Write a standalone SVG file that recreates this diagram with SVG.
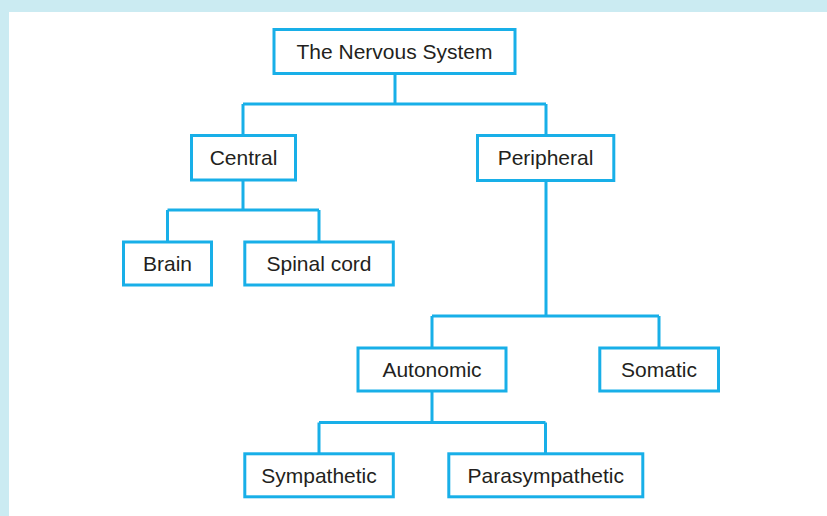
<svg xmlns="http://www.w3.org/2000/svg" width="827" height="516" viewBox="0 0 827 516">
<style>
.box{fill:#ffffff;stroke:#18afe8;stroke-width:3}
.lbl{font-family:"Liberation Sans",Arial,sans-serif;font-size:21px;fill:#231f20;text-anchor:middle}
.conn{fill:none;stroke:#18afe8;stroke-width:3}
</style>
<rect x="0" y="0" width="827" height="516" fill="#cbebf2"/>
<rect x="9" y="12" width="818" height="504" fill="#ffffff"/>
<g id="connectors">
<path class="conn" d="M395,73 V104 M243,104 H546 M243,104 V135.5 M546,104 V135.5"/>
<path class="conn" d="M243,179 V210 M167.5,210 H319 M167.5,210 V242 M319,210 V242"/>
<path class="conn" d="M546,180 V316 M432,316 H659 M432,316 V348 M659,316 V348"/>
<path class="conn" d="M432,391 V422.5 M319,422.5 H545.5 M319,422.5 V454 M545.5,422.5 V454"/>
</g>
<g id="nervous-system"><rect class="box" x="274" y="29.5" width="241" height="44"/><text class="lbl" x="394.5" y="59">The Nervous System</text></g>
<g id="central"><rect class="box" x="191.5" y="135.5" width="104" height="44.5"/><text class="lbl" x="243.5" y="165">Central</text></g>
<g id="peripheral"><rect class="box" x="477.5" y="135.5" width="136.3" height="45"/><text class="lbl" x="545.5" y="165">Peripheral</text></g>
<g id="brain"><rect class="box" x="123.5" y="242" width="88" height="43"/><text class="lbl" x="167.5" y="271">Brain</text></g>
<g id="spinal-cord"><rect class="box" x="244.8" y="242" width="148.5" height="43"/><text class="lbl" x="319" y="271">Spinal cord</text></g>
<g id="autonomic"><rect class="box" x="358" y="348" width="148" height="43"/><text class="lbl" x="432" y="377">Autonomic</text></g>
<g id="somatic"><rect class="box" x="599.8" y="348" width="118.7" height="43"/><text class="lbl" x="659" y="377">Somatic</text></g>
<g id="sympathetic"><rect class="box" x="244.8" y="453.8" width="148.5" height="43"/><text class="lbl" x="319" y="482.8">Sympathetic</text></g>
<g id="parasympathetic"><rect class="box" x="448.8" y="453.8" width="194" height="43"/><text class="lbl" x="545.8" y="482.8">Parasympathetic</text></g>
</svg>
